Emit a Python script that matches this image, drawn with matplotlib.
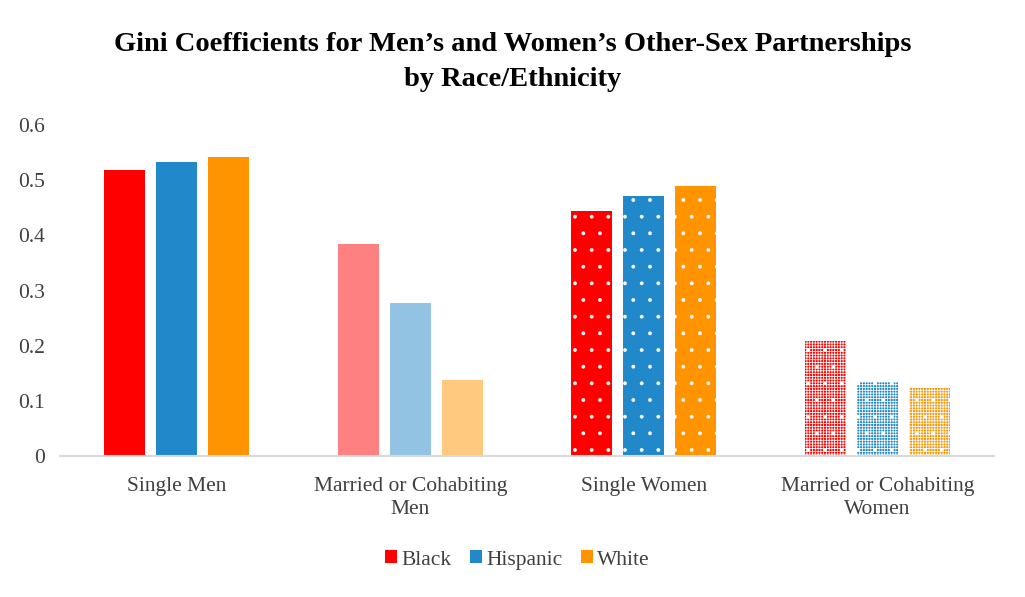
import matplotlib
matplotlib.use("Agg")
import matplotlib.pyplot as plt
import numpy as np
from matplotlib.patches import Patch

categories = ["Single Men", "Married or Cohabiting\nMen", "Single Women", "Married or Cohabiting\nWomen"]
series = ["Black", "Hispanic", "White"]
black = [0.519, 0.385, 0.444, 0.208]
hispanic = [0.533, 0.277, 0.471, 0.134]
white = [0.542, 0.138, 0.489, 0.124]
yticks = [0, 0.1, 0.2, 0.3, 0.4, 0.5, 0.6]
ytick_labels = ["0", "0.1", "0.2", "0.3", "0.4", "0.5", "0.6"]

base_colors = ["#FF0000", "#2188C9", "#FF9300"]
light_colors = ["#FF8080", "#92C3E3", "#FFC980"]

plt.rcParams['font.family'] = ['Liberation Serif', 'DejaVu Serif']

fig = plt.figure(figsize=(10.25, 5.97), dpi=100)
ax = fig.add_axes([60/1025, 1 - 456/597, 934/1025, (456-125)/597])

x = np.arange(len(categories))
width = 0.176
pitch = 0.223
data = [black, hispanic, white]
for i, vals in enumerate(data):
    off = (i - 1) * pitch
    for j, v in enumerate(vals):
        xpos = x[j] + off
        if j == 0:
            ax.bar(xpos, v, width, color=base_colors[i], linewidth=0)
        elif j == 1:
            ax.bar(xpos, v, width, color=light_colors[i], linewidth=0)
        elif j == 2:
            with plt.rc_context({'hatch.linewidth': 0.3}):
                ax.bar(xpos, v, width, facecolor=base_colors[i], edgecolor='white',
                       hatch='.', linewidth=0)
        else:
            with plt.rc_context({'hatch.linewidth': 0.55}):
                ax.bar(xpos, v, width, facecolor=base_colors[i], edgecolor='white',
                       hatch='++++++', linewidth=0)
            with plt.rc_context({'hatch.linewidth': 0.3}):
                ax.bar(xpos, v, width, facecolor='none', edgecolor='white',
                       hatch='.', linewidth=0)

ax.set_xlim(-0.5, 3.5)
ax.set_ylim(0, 0.6)
ax.set_yticks(yticks)
ax.set_yticklabels(ytick_labels)
ax.set_xticks(x)
ax.set_xticklabels(categories, linespacing=1.28)
for s in ['top', 'right', 'left']:
    ax.spines[s].set_visible(False)
ax.spines['bottom'].set_color('#D9D9D9')
ax.spines['bottom'].set_linewidth(1.5)
ax.tick_params(axis='both', length=0, labelsize=15.5, labelcolor='#404040')
ax.tick_params(axis='y', pad=11)
ax.tick_params(axis='x', pad=15)

fig.text(0.5, 1 - 62/597,
         "Gini Coefficients for Men\u2019s and Women\u2019s Other-Sex Partnerships\nby Race/Ethnicity",
         fontsize=20.5, fontweight='bold', ha='center', va='center', linespacing=1.48)

handles = [Patch(facecolor=c, edgecolor='none') for c in base_colors]
fig.legend(handles, series, loc='center', bbox_to_anchor=(0.5 + 5/1025, 1 - 560/597), ncol=3,
           frameon=False, fontsize=15.5, handlelength=0.55, handleheight=0.55,
           handletextpad=0.2, columnspacing=0.85, labelcolor='#404040')

fig.savefig("out.png", dpi=100)
